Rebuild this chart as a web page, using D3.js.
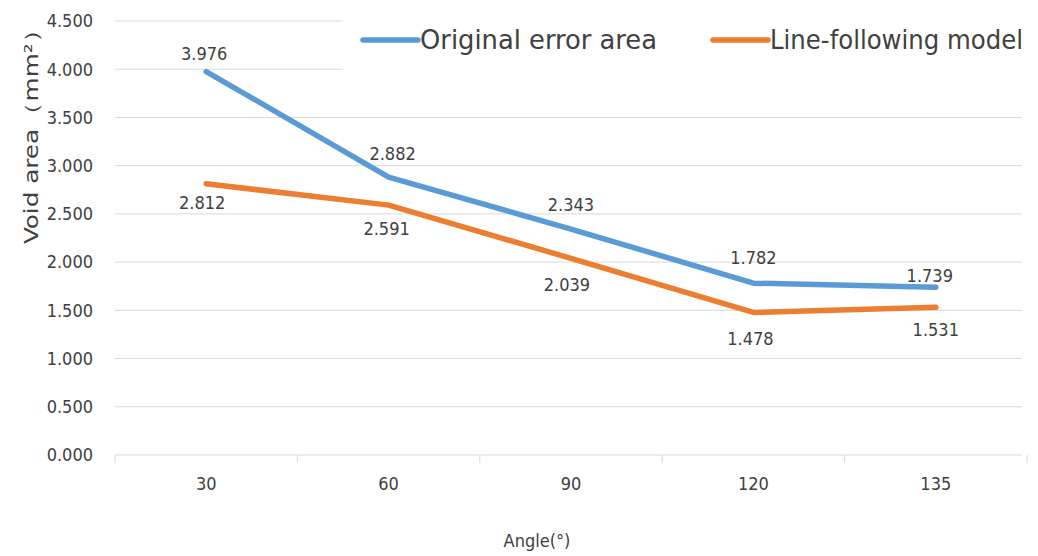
<!DOCTYPE html>
<html>
<head>
<meta charset="utf-8">
<script src="https://cdn.jsdelivr.net/npm/d3@7"></script>
<style>
  body { margin: 0; background: #fff; }
  text { font-family: "DejaVu Sans Condensed", "Liberation Sans", sans-serif; fill: #404040; }
</style>
</head>
<body>
<div id="chart"></div>
<script>
var width = 1038,
	height = 556;

var angles = ["30", "60", "90", "120", "135"];
var originalArea = [3.976, 2.882, 2.343, 1.782, 1.739];
var lineFollowing = [2.812, 2.591, 2.039, 1.478, 1.531];
var yTicks = [0, 0.5, 1, 1.5, 2, 2.5, 3, 3.5, 4, 4.5];

// label offsets per point (above / below the line)
var origLabelDy = [-18, -23, -24, -25, -12];
var followLabelDy = [19, 24, 26, 26, 22];
var origLabelDx = [-2, 4, 0, 0, -6];
var followLabelDx = [-4, -2, -4, -3, 0];

var svg = d3.select("#chart").append("svg")
	.attr("width", width)
	.attr("height", height)
	.style("background-color", "#fff");

var x = d3.scaleBand()
	.domain(angles)
	.range([115, 1027]);

var y = d3.scaleLinear()
	.domain([0, 4.5])
	.range([455, 21]);

// gridlines
svg.selectAll(".grid")
	.data(yTicks)
	.enter()
	.append("line")
	.attr("x1", 115)
	.attr("x2", 1022)
	.attr("y1", function(d){ return y(d); })
	.attr("y2", function(d){ return y(d); })
	.attr("stroke", "#d9d9d9")
	.attr("stroke-width", 1);

// y tick labels
svg.selectAll(".ylab")
	.data(yTicks)
	.enter()
	.append("text")
	.attr("x", 93)
	.attr("y", function(d){ return y(d); })
	.attr("dy", "0.35em")
	.attr("text-anchor", "end")
	.style("font-size", "18px")
	.text(function(d){ return d3.format(".3f")(d); });

// x axis ticks
var xAxis = d3.axisBottom(x).tickSize(0).tickPadding(0);
var gx = svg.append("g")
	.attr("transform", "translate(0," + y(0) + ")")
	.call(xAxis);
gx.select(".domain").remove();
gx.selectAll("text")
	.attr("y", 0)
	.attr("dy", "1.95em")
	.style("font-size", "18px")
	.style("font-family", null)
	.attr("fill", "#404040");

var tickPos = angles.map(function(a){ return x(a); }).concat([x.range()[1]]);
svg.selectAll(".xtick")
	.data(tickPos)
	.enter()
	.append("line")
	.attr("x1", function(d){ return d; })
	.attr("x2", function(d){ return d; })
	.attr("y1", y(0))
	.attr("y2", y(0) + 8)
	.attr("stroke", "#d9d9d9");

// legend background hides the top gridlines
svg.append("rect")
	.attr("x", 343)
	.attr("y", 0)
	.attr("width", width - 343)
	.attr("height", 74)
	.attr("fill", "#fff");

// lines
var line = d3.line()
	.x(function(d, i){ return x(angles[i]) + x.bandwidth() / 2; })
	.y(function(d){ return y(d); });

var series = [
	{name: "Original error area", values: originalArea, color: "#5b9bd5", dy: origLabelDy, dx: origLabelDx, len: 237},
	{name: "Line-following model", values: lineFollowing, color: "#ed7d31", dy: followLabelDy, dx: followLabelDx, len: 253}
];

series.forEach(function(s){
	svg.append("path")
		.datum(s.values)
		.attr("fill", "none")
		.attr("stroke", s.color)
		.attr("stroke-width", 5.5)
		.attr("stroke-linecap", "round")
		.attr("stroke-linejoin", "round")
		.attr("d", line);

	svg.selectAll(null)
		.data(s.values)
		.enter()
		.append("text")
		.attr("x", function(d, i){ return x(angles[i]) + x.bandwidth() / 2 + s.dx[i]; })
		.attr("y", function(d, i){ return y(d) + s.dy[i]; })
		.attr("dy", "0.35em")
		.attr("text-anchor", "middle")
		.style("font-size", "18px")
		.text(function(d){ return d3.format(".3f")(d); });
});

// legend
var legendX = [363, 713];
series.forEach(function(s, i){
	svg.append("line")
		.attr("x1", legendX[i])
		.attr("x2", legendX[i] + 55)
		.attr("y1", 40)
		.attr("y2", 40)
		.attr("stroke", s.color)
		.attr("stroke-width", 5.5)
		.attr("stroke-linecap", "round");
	svg.append("text")
		.attr("x", legendX[i] + 57)
		.attr("y", 40)
		.attr("dy", "0.35em")
		.attr("textLength", s.len)
		.attr("lengthAdjust", "spacingAndGlyphs")
		.style("font-size", "27px")
		.text(s.name);
});

// axis titles
svg.append("text")
	.attr("transform", "translate(31,130) rotate(-90)")
	.attr("text-anchor", "middle")
	.attr("dy", "0.35em")
	.attr("textLength", 228)
	.attr("lengthAdjust", "spacingAndGlyphs")
	.style("font-size", "19px")
	.attr("fill", "#595959")
	.text("Void area（mm²）");

svg.append("text")
	.attr("x", 537)
	.attr("y", 541)
	.attr("dy", "0.35em")
	.attr("text-anchor", "middle")
	.style("font-size", "18px")
	.text("Angle(°)");
</script>
</body>
</html>
